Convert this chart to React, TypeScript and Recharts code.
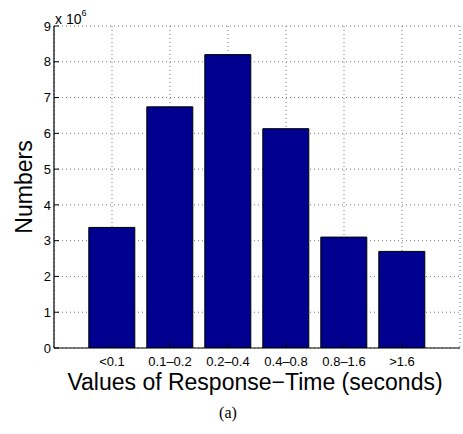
import React from 'react';
import { BarChart, Bar, XAxis, YAxis, CartesianGrid } from 'recharts';

const categories = ['<0.1', '0.1\u20130.2', '0.2\u20130.4', '0.4\u20130.8', '0.8\u20131.6', '>1.6'];
const countsMillions = [3.37, 6.74, 8.2, 6.13, 3.1, 2.7];
const yTicks = [0, 1, 2, 3, 4, 5, 6, 7, 8, 9];

const data = categories.map((name, i) => ({ name, value: countsMillions[i] }));

const FONT = '"Liberation Sans", Arial, Helvetica, sans-serif';

export default function App() {
  return (
    <div style={{ position: 'absolute', left: 0, top: 0, width: 463, height: 434, background: '#fff', fontFamily: FONT }}>
      <BarChart
        width={463}
        height={434}
        data={data}
        margin={{ top: 26, right: 3, bottom: 0, left: 0 }}
        barCategoryGap="10%"
        style={{ fontFamily: FONT }}
      >
        <CartesianGrid stroke="#777" strokeDasharray="1 3" strokeWidth={1} />
        <XAxis
          dataKey="name"
          height={86}
          padding={{ left: 29, right: 29 }}
          interval={0}
          tickSize={-5}
          tickMargin={14}
          axisLine={{ stroke: '#000', strokeWidth: 1.2 }}
          tickLine={{ stroke: '#000' }}
          tick={{ fill: '#000', fontSize: 13 }}
        />
        <XAxis
          xAxisId="top"
          dataKey="name"
          orientation="top"
          height={0}
          padding={{ left: 29, right: 29 }}
          interval={0}
          tickSize={-5}
          axisLine={{ stroke: '#000', strokeWidth: 1.2 }}
          tickLine={{ stroke: '#000' }}
          tick={false}
        />
        <YAxis
          width={54}
          domain={[0, 9]}
          ticks={yTicks}
          interval={0}
          allowDataOverflow
          tickSize={-5}
          tickMargin={8}
          axisLine={{ stroke: '#000', strokeWidth: 1.2 }}
          tickLine={{ stroke: '#000' }}
          tick={{ fill: '#000', fontSize: 13 }}
        />
        <YAxis
          yAxisId="right"
          orientation="right"
          width={0}
          domain={[0, 9]}
          ticks={yTicks}
          interval={0}
          tickSize={-5}
          axisLine={{ stroke: '#000', strokeWidth: 1.2 }}
          tickLine={{ stroke: '#000' }}
          tick={false}
        />
        <Bar dataKey="value" fill="#00008F" stroke="#000" strokeWidth={1} isAnimationActive={false} />
      </BarChart>
      <div style={{ position: 'absolute', left: 55, top: 7, fontSize: 14, lineHeight: '16px', color: '#000', whiteSpace: 'nowrap' }}>
        x 10<sup style={{ fontSize: 9, position: 'relative', top: -2 }}>6</sup>
      </div>
      <div
        style={{
          position: 'absolute', left: 24, top: 187, fontSize: 23, lineHeight: '23px', color: '#000',
          transform: 'translate(-50%, -50%) rotate(-90deg)', whiteSpace: 'nowrap',
        }}
      >
        Numbers
      </div>
      <div style={{ position: 'absolute', left: 0, width: 510, top: 369, textAlign: 'center', fontSize: 23, lineHeight: '26px', color: '#000', whiteSpace: 'nowrap' }}>
        Values of Response{'\u2212'}Time (seconds)
      </div>
      <div style={{ position: 'absolute', left: 0, width: 456, top: 404, textAlign: 'center', fontSize: 16, lineHeight: '18px', color: '#000', fontFamily: '"Liberation Serif", "Times New Roman", serif' }}>
        (a)
      </div>
    </div>
  );
}
